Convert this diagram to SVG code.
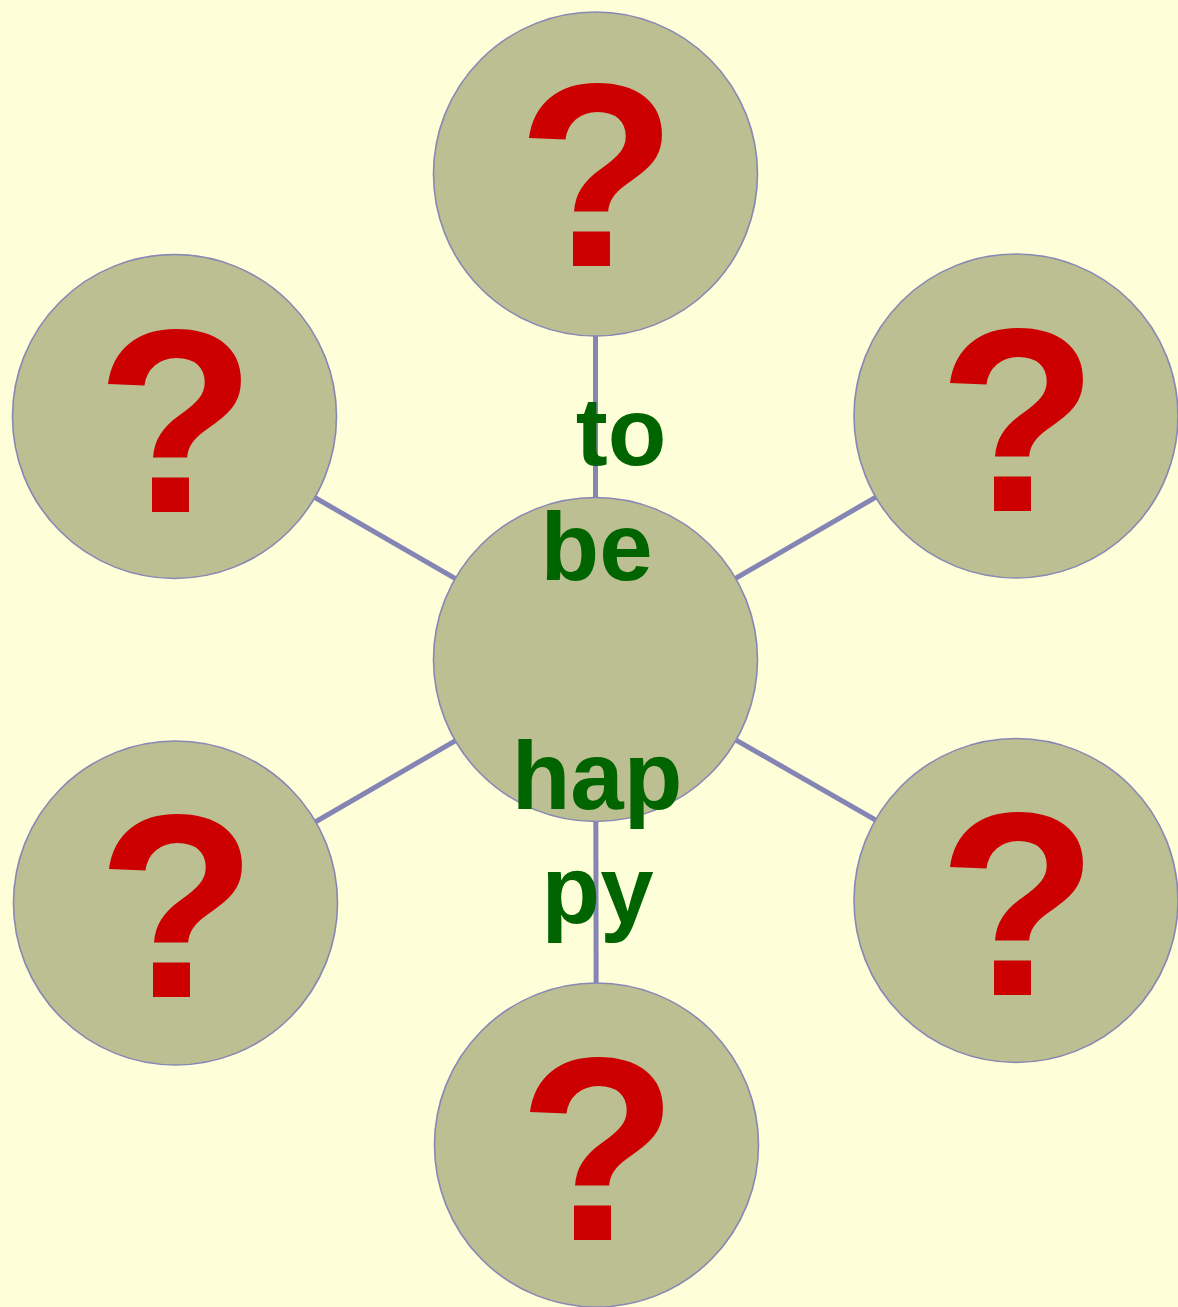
<svg xmlns="http://www.w3.org/2000/svg" width="1178" height="1307" viewBox="0 0 1178 1307">
<style>
.node{fill:#BBBF91;stroke:#8888B5;stroke-width:1.6}
.conn{stroke:#8585B5;stroke-width:5;fill:none}
.q{font-family:"Liberation Sans",Arial,sans-serif;font-weight:bold;font-size:262px;fill:#CC0000;text-anchor:middle}
.lbl{font-family:"Liberation Sans",Arial,sans-serif;font-weight:bold;font-size:96px;fill:#006400;text-anchor:middle}
</style>
<rect width="1178" height="1307" fill="#FEFED8"/>
<g id="connectors">
<line class="conn" x1="595.5" y1="659.5" x2="595.5" y2="174"/>
<line class="conn" x1="595.5" y1="659.5" x2="174.5" y2="416.5"/>
<line class="conn" x1="595.5" y1="659.5" x2="1016" y2="416"/>
<line class="conn" x1="595.5" y1="659.5" x2="175.5" y2="903"/>
<line class="conn" x1="595.5" y1="659.5" x2="1016" y2="900.5"/>
<line class="conn" x1="595.5" y1="659.5" x2="596.5" y2="1145"/>
</g>
<g id="n-top"><circle class="node" cx="595.5" cy="174" r="162"/><text class="q" x="597" y="266">?</text></g>
<g id="n-ul"><circle class="node" cx="174.5" cy="416.5" r="162"/><text class="q" x="176" y="512">?</text></g>
<g id="n-ur"><circle class="node" cx="1016" cy="416" r="162"/><text class="q" x="1018" y="511">?</text></g>
<g id="n-ll"><circle class="node" cx="175.5" cy="903" r="162"/><text class="q" x="177" y="997">?</text></g>
<g id="n-lr"><circle class="node" cx="1016" cy="900.5" r="162"/><text class="q" x="1018" y="995">?</text></g>
<g id="n-bottom"><circle class="node" cx="596.5" cy="1145" r="162"/><text class="q" x="598" y="1240">?</text></g>
<g id="n-center"><circle class="node" cx="595.5" cy="659.5" r="162"/>
<text class="lbl" x="621" y="465">to</text>
<text class="lbl" x="596.5" y="580">be</text>
<text class="lbl" x="597" y="809">hap</text>
<text class="lbl" x="597.5" y="923">py</text>
</g>
</svg>
